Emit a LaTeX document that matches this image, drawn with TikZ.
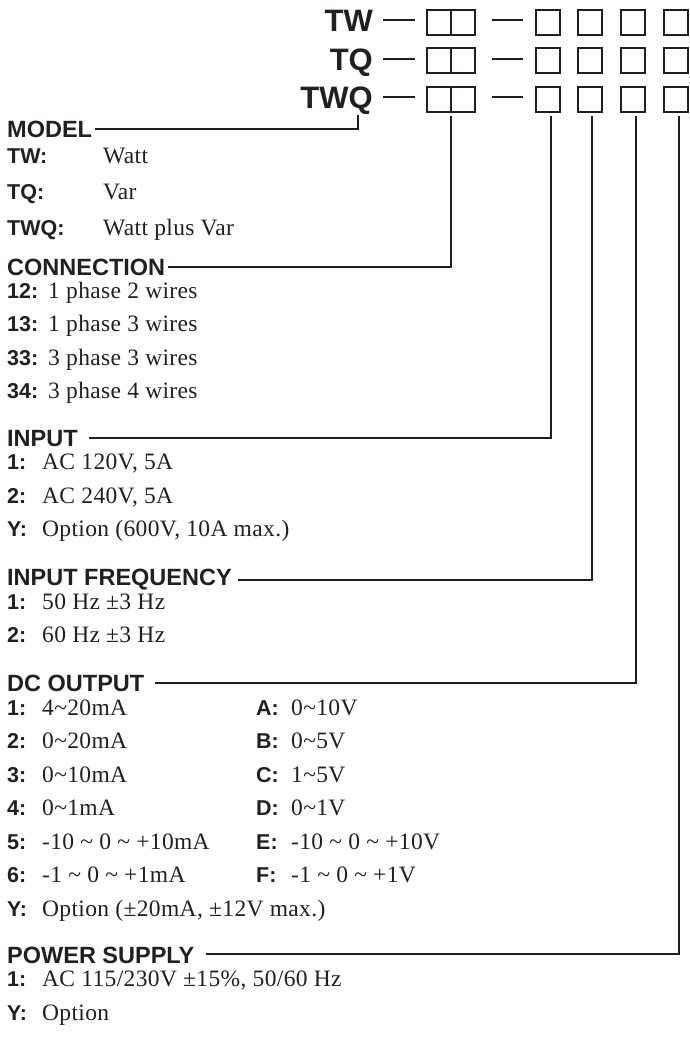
\documentclass[tikz,border=0pt]{standalone}
\usepackage{fontspec}
\setmainfont{Liberation Serif}
\setsansfont{Liberation Sans}
\newfontfamily\bodyfam[LetterSpace=1.5]{Liberation Serif}
\definecolor{ink}{RGB}{35,31,32}
\newcommand{\hdrfont}{\sffamily\bfseries\fontsize{23.5}{28}\selectfont}
\newcommand{\lblfont}{\sffamily\bfseries\fontsize{21.5}{26}\selectfont}
\newcommand{\bodyfont}{\bodyfam\fontsize{23.5}{28}\selectfont}
\newcommand{\ttlfont}{\sffamily\bfseries\fontsize{31}{36}\selectfont}
\begin{document}
\begin{tikzpicture}[x=1pt,y=-1pt,
  hdr/.style={font=\hdrfont, anchor=base west, inner sep=0pt, text=ink},
  lbl/.style={font=\lblfont, anchor=base west, inner sep=0pt, text=ink},
  body/.style={font=\bodyfont, anchor=base west, inner sep=0pt, text=ink},
  ttl/.style={font=\ttlfont, anchor=base east, inner sep=0pt, text=ink},
  sbox/.style={draw=ink, line width=2pt, minimum width=24pt, minimum height=25pt, inner sep=0pt},
  dbox/.style={draw=ink, line width=2pt, minimum width=48pt, minimum height=25pt, inner sep=0pt},
  wire/.style={draw=ink, line width=2pt}]
\useasboundingbox (0,0) rectangle (690,1038);

% ---- title rows ----
\foreach \nm/\txt/\r in {a/TW/22.5, b/TQ/61, c/TWQ/99.5}{
  \node[ttl] (t\nm) at (373,\r+9.5) {\txt};
  \draw[wire] (383,\r-2) -- (415,\r-2);
  \node[dbox] (d\nm) at (451,\r) {};
  \draw[wire] (d\nm.north) -- (d\nm.south);
  \draw[wire] (492,\r-2) -- (523,\r-2);
  \node[sbox] (s1\nm) at (547.5,\r) {};
  \node[sbox] (s2\nm) at (589.5,\r) {};
  \node[sbox] (s3\nm) at (632.5,\r) {};
  \node[sbox] (s4\nm) at (675.5,\r) {};
}

% ---- MODEL ----
\node[hdr] (hModel) at (7,138) {MODEL};
\node[lbl] (lTW) at (7,163) {TW:};
\node[body] (bTW) at (103,163) {Watt};
\node[lbl] (lTQ) at (7,199) {TQ:};
\node[body] (bTQ) at (103,199) {Var};
\node[lbl] (lTWQ) at (7,235) {TWQ:};
\node[body] (bTWQ) at (103,235) {Watt plus Var};

% ---- CONNECTION ----
\node[hdr] (hConn) at (7,275.5) {CONNECTION};
\node[lbl] (l12) at (7,298) {12:};
\node[body] (b12) at (48,298) {1 phase 2 wires};
\node[lbl] (l13) at (7,331.5) {13:};
\node[body] (b13) at (48,331.5) {1 phase 3 wires};
\node[lbl] (l33) at (7,365) {33:};
\node[body] (b33) at (48,365) {3 phase 3 wires};
\node[lbl] (l34) at (7,398.5) {34:};
\node[body] (b34) at (48,398.5) {3 phase 4 wires};

% ---- INPUT ----
\node[hdr] (hIn) at (7,446) {INPUT};
\node[lbl] (lIn1) at (7,469.5) {1:};
\node[body] (bIn1) at (42,469.5) {AC 120V, 5A};
\node[lbl] (lIn2) at (7,503) {2:};
\node[body] (bIn2) at (42,503) {AC 240V, 5A};
\node[lbl] (lInY) at (7,536.5) {Y:};
\node[body] (bInY) at (42,536.5) {Option (600V, 10A max.)};

% ---- INPUT FREQUENCY ----
\node[hdr] (hFreq) at (7,585.5) {INPUT FREQUENCY};
\node[lbl] (lF1) at (7,609) {1:};
\node[body] (bF1) at (42,609) {50 Hz ±3 Hz};
\node[lbl] (lF2) at (7,642.5) {2:};
\node[body] (bF2) at (42,642.5) {60 Hz ±3 Hz};

% ---- DC OUTPUT ----
\node[hdr] (hDC) at (7,691.5) {DC OUTPUT};
\node[lbl] (lD1) at (7,715) {1:};
\node[body] (bD1) at (42,715) {4\textasciitilde 20mA};
\node[lbl] (lD2) at (7,748.5) {2:};
\node[body] (bD2) at (42,748.5) {0\textasciitilde 20mA};
\node[lbl] (lD3) at (7,782) {3:};
\node[body] (bD3) at (42,782) {0\textasciitilde 10mA};
\node[lbl] (lD4) at (7,815.5) {4:};
\node[body] (bD4) at (42,815.5) {0\textasciitilde 1mA};
\node[lbl] (lD5) at (7,849) {5:};
\node[body] (bD5) at (42,849) {-10 \textasciitilde{} 0 \textasciitilde{} +10mA};
\node[lbl] (lD6) at (7,882.5) {6:};
\node[body] (bD6) at (42,882.5) {-1 \textasciitilde{} 0 \textasciitilde{} +1mA};
\node[lbl] (lDY) at (7,916) {Y:};
\node[body] (bDY) at (42,916) {Option (±20mA, ±12V max.)};
\node[lbl] (lDA) at (256,715) {A:};
\node[body] (bDA) at (291,715) {0\textasciitilde 10V};
\node[lbl] (lDB) at (256,748.5) {B:};
\node[body] (bDB) at (291,748.5) {0\textasciitilde 5V};
\node[lbl] (lDC) at (256,782) {C:};
\node[body] (bDC) at (291,782) {1\textasciitilde 5V};
\node[lbl] (lDD) at (256,815.5) {D:};
\node[body] (bDD) at (291,815.5) {0\textasciitilde 1V};
\node[lbl] (lDE) at (256,849) {E:};
\node[body] (bDE) at (291,849) {-10 \textasciitilde{} 0 \textasciitilde{} +10V};
\node[lbl] (lDF) at (256,882.5) {F:};
\node[body] (bDF) at (291,882.5) {-1 \textasciitilde{} 0 \textasciitilde{} +1V};

% ---- POWER SUPPLY ----
\node[hdr] (hPow) at (7,963) {POWER SUPPLY};
\node[lbl] (lP1) at (7,986.5) {1:};
\node[body] (bP1) at (42,986.5) {AC 115/230V ±15\%, 50/60 Hz};
\node[lbl] (lPY) at (7,1020) {Y:};
\node[body] (bPY) at (42,1020) {Option};

% ---- connectors ----
\coordinate (cModel) at (358,115);
\coordinate (cConn) at (451,116);
\coordinate (cIn) at (551,116);
\coordinate (cFreq) at (592,116);
\coordinate (cDC) at (636,116);
\coordinate (cPow) at (679,116);
\draw[wire] (cModel) |- ([xshift=3pt,yshift=0.5pt]hModel.east);
\draw[wire] (cConn) |- ([xshift=3pt,yshift=0.5pt]hConn.east);
\draw[wire] (cIn) |- ([xshift=11pt,yshift=0.5pt]hIn.east);
\draw[wire] (cFreq) |- ([xshift=6pt]hFreq.east);
\draw[wire] (cDC) |- ([xshift=11pt,yshift=0.5pt]hDC.east);
\draw[wire] (cPow) |- ([xshift=11pt,yshift=0.5pt]hPow.east);
\end{tikzpicture}
\end{document}
